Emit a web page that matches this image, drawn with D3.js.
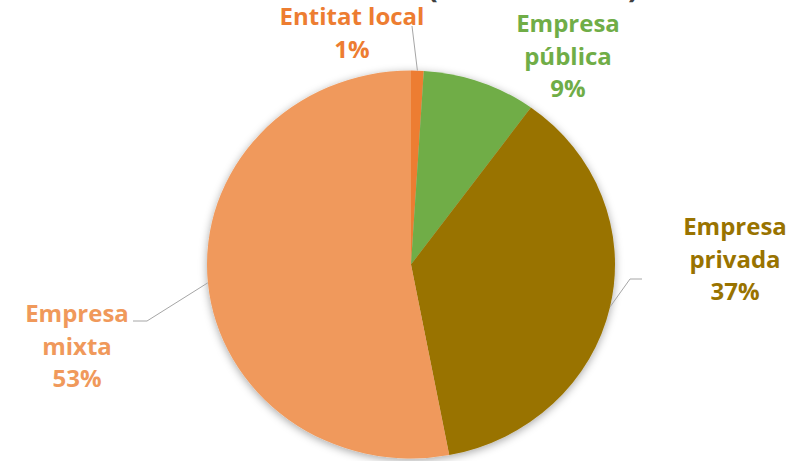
<!DOCTYPE html>
<html>
<head>
  <meta charset="utf-8">
  <title>Pie chart</title>
  <script src="https://d3js.org/d3.v7.min.js"></script>
  <style>
    body { margin: 0; background: #fff; }
    text { font-family: "Open Sans", sans-serif; font-weight: bold; }
  </style>
</head>
<body>
  <div id="chart"></div>
  <script>
    // data
    var categories = ["Entitat local", "Empresa pública", "Empresa privada", "Empresa mixta"];
    var values = [1, 9, 37, 53];
    var labelLines = [["Entitat local"], ["Empresa", "pública"], ["Empresa", "privada"], ["Empresa", "mixta"]];
    var colors = ["#ED7D31", "#70AD47", "#997300", "#F0995B"];

    // layout
    var width = 808, height = 461;
    var cx = 411, cy = 264.5, rx = 204, ry = 194;
    var lineHeight = 32.5;
    var labelPos = [[352, 25], [568, 32], [735, 235], [77, 322]];
    // leader line bends (null = no leader)
    var leaderBends = [[[412, 26]], null, [[630, 279], [642, 279]], [[147, 321], [133, 321]]];

    var svg = d3.select("#chart").append("svg")
      .attr("width", width)
      .attr("height", height);

    var defs = svg.append("defs");
    var f = defs.append("filter").attr("id", "shadow")
      .attr("x", "-10%").attr("y", "-10%").attr("width", "120%").attr("height", "120%");
    f.append("feDropShadow")
      .attr("dx", 0).attr("dy", 2)
      .attr("stdDeviation", 4)
      .attr("flood-color", "#000")
      .attr("flood-opacity", 0.35);

    // title (cut off at the top of the picture)
    svg.append("text").attr("x", 427).attr("y", -3)
      .attr("font-size", 32).attr("fill", "#404040").text("(");
    svg.append("text").attr("x", 628).attr("y", -3)
      .attr("font-size", 32).attr("fill", "#404040").text(")");

    var pie = d3.pie().sort(null).value(function(d) { return d; });
    var arcs = pie(values);
    var arc = d3.arc().innerRadius(0).outerRadius(rx);

    var outer = svg.append("g").attr("filter", "url(#shadow)");
    var g = outer.append("g")
      .attr("transform", "translate(" + cx + "," + cy + ") scale(1," + (ry / rx) + ")");

    g.selectAll("path")
      .data(arcs)
      .enter()
      .append("path")
      .attr("d", arc)
      .attr("fill", function(d, i) { return colors[i]; });

    // leader lines
    arcs.forEach(function(d, i) {
      if (!leaderBends[i]) return;
      var a = (d.startAngle + d.endAngle) / 2;
      var pts = [[cx + rx * Math.sin(a), cy - ry * Math.cos(a)]].concat(leaderBends[i]);
      svg.append("path")
        .attr("d", d3.line()(pts))
        .attr("fill", "none")
        .attr("stroke", "#A6A6A6")
        .attr("stroke-width", 1);
    });

    // labels
    var fmt = d3.format(".0f");
    categories.forEach(function(c, i) {
      var lines = labelLines[i].concat([fmt(values[i]) + "%"]);
      var t = svg.append("text")
        .attr("text-anchor", "middle")
        .attr("font-size", 24)
        .attr("fill", colors[i]);
      lines.forEach(function(l, j) {
        t.append("tspan")
          .attr("x", labelPos[i][0])
          .attr("y", labelPos[i][1] + j * lineHeight)
          .text(l);
      });
    });
  </script>
</body>
</html>
